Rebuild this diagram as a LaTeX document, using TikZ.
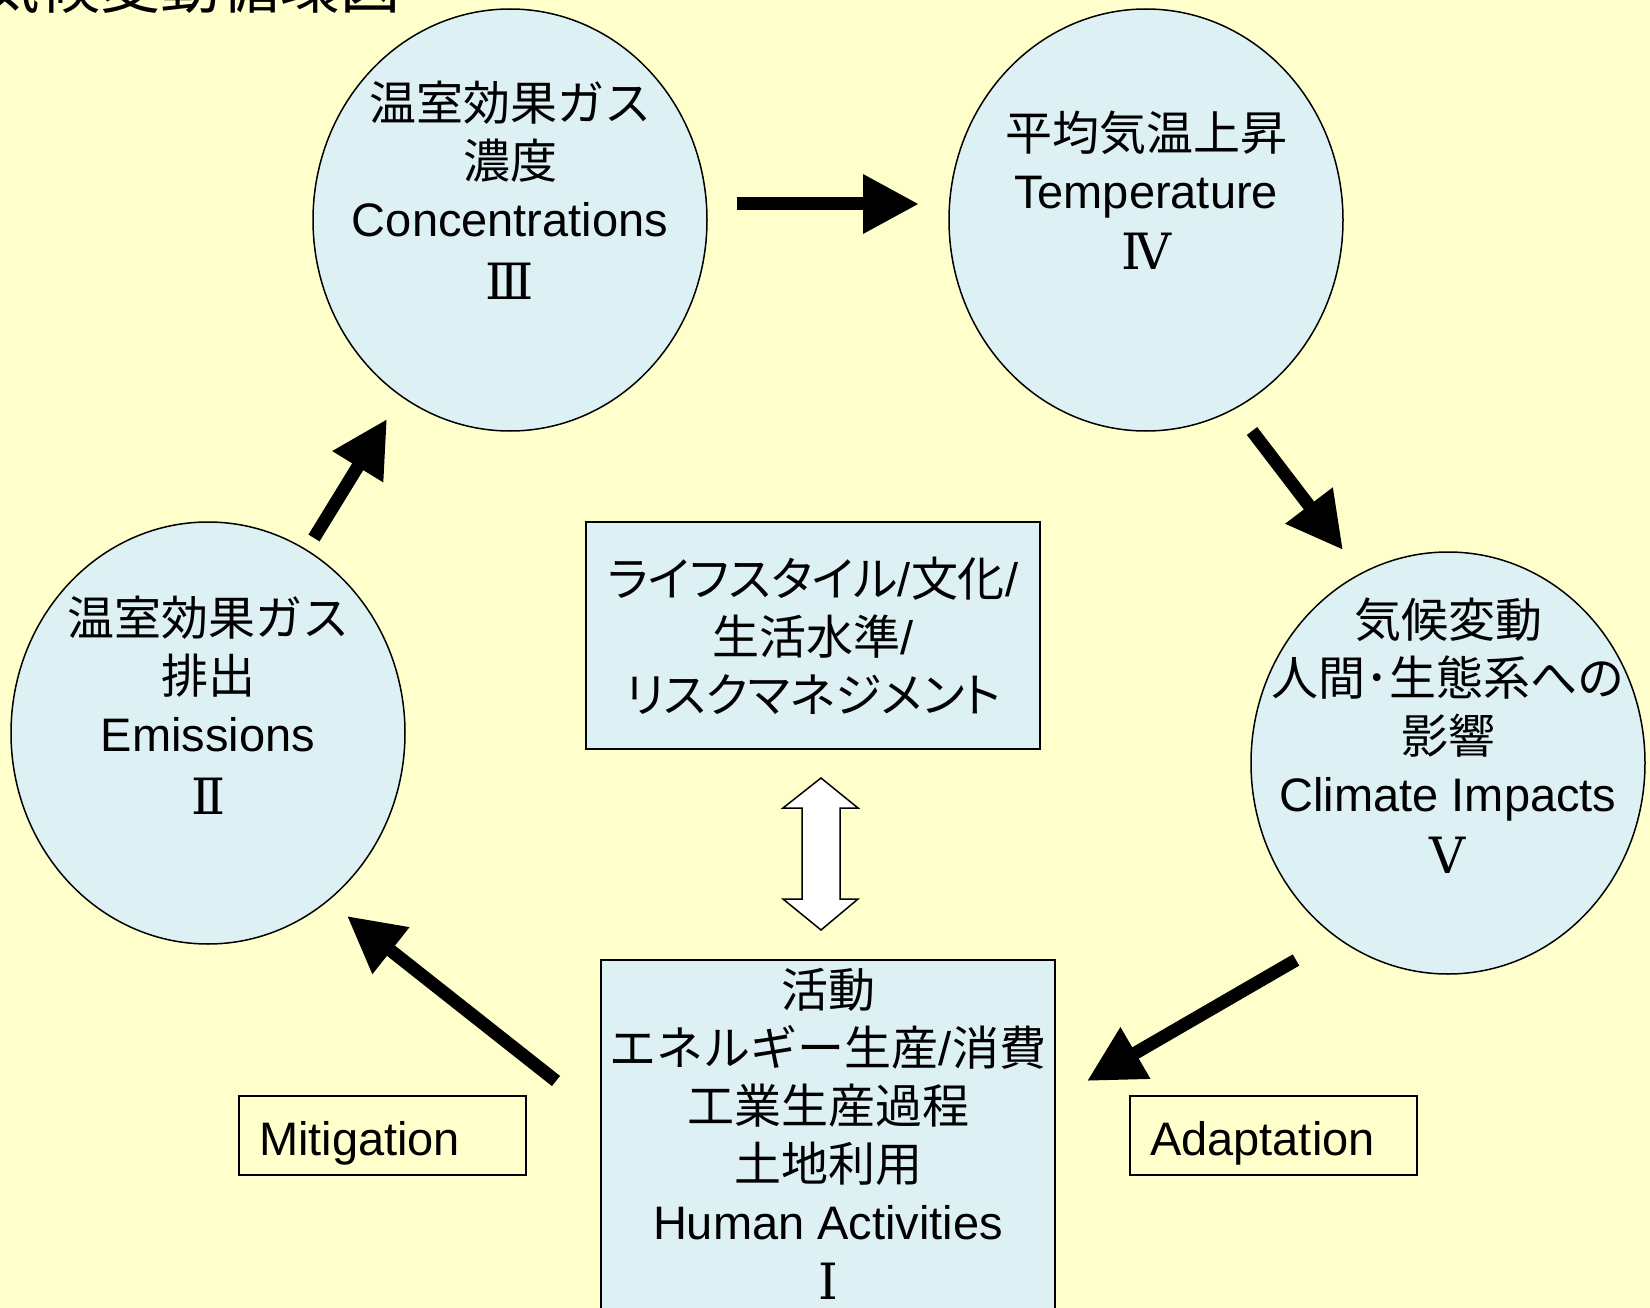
\documentclass[tikz,border=0pt]{standalone}
\usepackage{fontspec}
\setmainfont{Liberation Sans}
\newfontfamily\jp{Noto Sans CJK JP}
\newfontfamily\jpp[RawFeature=+palt]{Noto Sans CJK JP}
\newfontfamily\rom{DejaVu Serif}
\usetikzlibrary{shapes.geometric,arrows.meta}
\definecolor{bgyellow}{RGB}{255,255,204}
\definecolor{lblue}{RGB}{221,241,244}
\newcommand{\romsize}{\rom\fontsize{50}{58}\selectfont}
\begin{document}
\begin{tikzpicture}[x=1pt,y=-1pt,
  circ/.style={ellipse,draw=black,line width=1.5pt,fill=lblue,minimum width=394pt,minimum height=422pt,inner sep=0pt},
  txt/.style={align=center,font=\fontsize{47}{58}\selectfont,inner sep=0pt},
  bluebox/.style={draw=black,line width=1.5pt,fill=lblue},
  labelbox/.style={draw=black,line width=1.5pt,fill=bgyellow,minimum height=79pt,text width=247pt,text height=40pt,text depth=0pt,inner xsep=20pt,inner ysep=0pt,align=left,font=\fontsize{47}{58}\selectfont},
  bigarrow/.style={line width=13pt,-{Triangle[length=56pt,width=56pt]}},
]
\path[use as bounding box,fill=bgyellow] (0,0) rectangle (1650,1308);
\clip (0,0) rectangle (1650,1308);

% title (cut off at the top)
\node[anchor=base west,inner sep=0pt,font=\jp\fontsize{60}{60}\selectfont] (title) at (-20,9) {気候変動循環図};

% circles
\node[circ] (c3) at (510,220) {};
\node[circ] (c4) at (1146,220) {};
\node[circ] (c2) at (208,733) {};
\node[circ] (c5) at (1448,763) {};

\node[txt] (t3) at (510,190.5) {{\jp 温室効果ガス}\\{\jp 濃度}\\Concentrations\\[5pt]{\romsize Ⅲ}};
\node[txt] (t4) at (1146,190.5) {{\jp 平均気温上昇}\\Temperature\\[3pt]{\romsize Ⅳ}};
\node[txt] (t2) at (208,705.5) {{\jp 温室効果ガス}\\{\jp 排出}\\Emissions\\[5pt]{\romsize Ⅱ}};
\node[txt] (t5) at (1448,736) {{\jp 気候変動}\\{\jp 人間･生態系への}\\{\jp 影響}\\Climate Impacts\\[4pt]{\romsize Ⅴ}};

% boxes
\node[bluebox,minimum width=454pt,minimum height=227pt] (life) at (813,635.5) {};
\node[txt] (tlife) at (813,636) {{\jpp ライフスタイル}/{\jp 文化}/\\{\jp 生活水準}/\\{\jpp リスクマネジメント}};

\draw[bluebox] (601,960) rectangle (1055,1330);
\node[txt] (tact) at (828,1134) {{\jp 活動}\\{\jp エネルギー生産}/{\jp 消費}\\{\jp 工業生産過程}\\{\jp 土地利用}\\Human Activities\\[2pt]{\romsize Ⅰ}};

\node[labelbox] (mit) at (382.5,1135.5) {Mitigation};
\node[labelbox] (ada) at (1273.5,1135.5) {Adaptation};

% arrows
\coordinate (a34s) at (737,204);  \coordinate (a34e) at (919,204);
\coordinate (a45s) at (1252,431); \coordinate (a45e) at (1343,550);
\coordinate (a51s) at (1296,960); \coordinate (a51e) at (1087,1081);
\coordinate (a12s) at (556,1081); \coordinate (a12e) at (347,916);
\coordinate (a23s) at (314,538);  \coordinate (a23e) at (387,419);
\draw[bigarrow] (a34s) -- (a34e);
\draw[bigarrow] (a45s) -- (a45e);
\draw[bigarrow] (a51s) -- (a51e);
\draw[bigarrow] (a12s) -- (a12e);
\draw[bigarrow] (a23s) -- (a23e);

% double arrow between lifestyle and activities
\coordinate (dtop) at (821,778);
\coordinate (dbot) at (821,930);
\draw[line width=1.5pt,fill=white,line join=miter]
  (dtop) -- (858,808) -- (840,808) -- (840,899) -- (858,899) -- (dbot)
  -- (783,899) -- (802,899) -- (802,808) -- (783,808) -- cycle;
\end{tikzpicture}
\end{document}
